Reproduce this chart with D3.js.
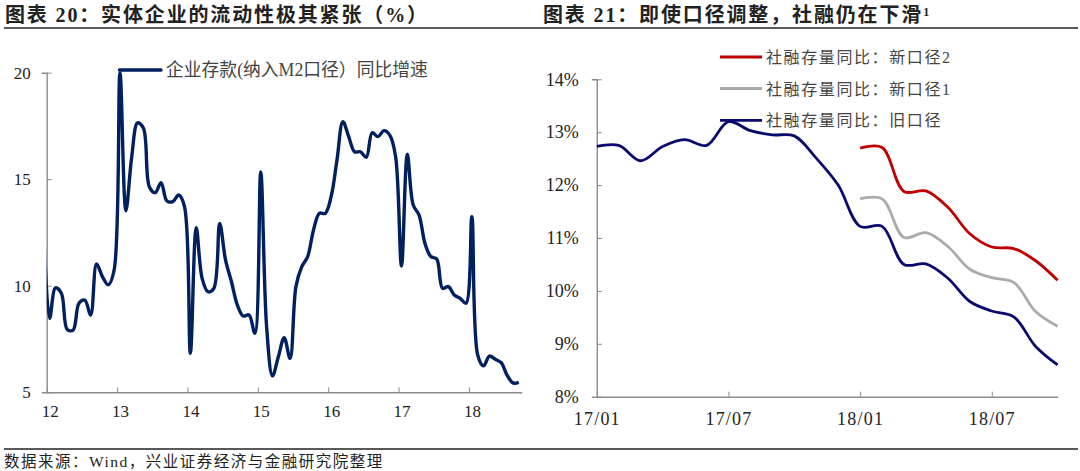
<!DOCTYPE html>
<html>
<head>
<meta charset="utf-8">
<script src="https://cdn.jsdelivr.net/npm/d3@7"></script>
<style>
  html, body { margin: 0; padding: 0; background: #fff; }
  svg { display: block; }
  text { font-family: "Liberation Serif", "Noto Sans CJK SC", serif; }
</style>
</head>
<body>
<div id="grafico"></div>
<script>
// dados do gráfico da esquerda (mensal, 2012/01 a 2018/09)
var anos = ["12", "13", "14", "15", "16", "17", "18"];
var ticksAnos = [0, 12, 24, 36, 48, 60, 72];
var ticksDeposito = [5, 10, 15, 20];
var deposito = [
  8.47, 9.9, 9.65, 7.95, 7.92, 9.18, 9.33, 8.63, 11.02, 10.43, 10.04, 10.74,
  20, 13.52, 16.06, 17.65, 17.39, 14.65, 14.37, 14.84, 13.98, 13.95, 14.26, 13.71,
  6.83, 12.73, 10.35, 9.72, 9.88, 12.93, 11.2, 10.2, 9.1, 8.58, 8.63, 7.77,
  15.34, 8.08, 5.77, 6.67, 7.56, 6.59, 9.96, 10.9, 11.37, 12.62, 13.4, 13.4,
  14.18, 15.9, 17.7, 17.0, 16.29, 16.29, 16.03, 17.18, 17.0, 17.28, 17.07, 16.06,
  10.93, 16.17, 13.79, 13.32, 11.99, 11.37, 11.26, 9.88, 9.96, 9.57, 9.41, 9.18,
  13.24, 6.75, 6.24, 6.7, 6.55, 6.39, 5.81, 5.44, 5.47
];
// valor de 2011/12, fica fora do eixo e serve só para a entrada da linha
var depositoAntes = 12.7;

// dados do gráfico da direita (mensal, 17/01 a 18/10)
var meses = ["17/01","17/02","17/03","17/04","17/05","17/06","17/07","17/08","17/09","17/10","17/11","17/12",
  "18/01","18/02","18/03","18/04","18/05","18/06","18/07","18/08","18/09","18/10"];
var ticksMeses = ["17/01", "17/07", "18/01", "18/07"];
var ticksSocial = [8, 9, 10, 11, 12, 13, 14];
var antigo = [12.73, 12.75, 12.46, 12.73, 12.86, 12.75, 13.2, 13.03, 12.95, 12.93, 12.51, 12.0,
  11.22, 11.22, 10.5, 10.51, 10.24, 9.8, 9.62, 9.51, 8.95, 8.6];
var novo1 = [11.74, 11.74, 11.01, 11.1, 10.84, 10.41, 10.25, 10.16, 9.61, 9.33];
var novo2 = [12.7, 12.71, 11.88, 11.89, 11.58, 11.08, 10.83, 10.8, 10.57, 10.2];
var mesesNovos = meses.slice(12);

var svg = d3.select("#grafico").append("svg").attr("width", 1080).attr("height", 471);
var corEixo = "#8c8c8c";
var azul = "#002060", marinho = "#0a0a6e", cinza = "#ababab", vermelho = "#c00000";

function estiloEixo(g, tam) {
  g.select(".domain").attr("stroke", corEixo).attr("stroke-width", 1.4);
  g.selectAll(".tick line").attr("stroke", corEixo).attr("stroke-width", 1);
  g.selectAll(".tick text").attr("fill", "#222").attr("font-size", tam)
    .style("font-family", '"Liberation Serif", serif');
}

// títulos e linhas
function titulo(x, partes) {
  var t = svg.append("text").attr("x", x).attr("y", 22).attr("font-size", 20)
    .attr("font-weight", "bold").attr("fill", "#222").attr("letter-spacing", 1.85);
  partes.forEach(function (p) { t.append("tspan").text(p); });
  return t;
}
titulo(5, ["图表 20：实体企业的流动性极其紧张（%）"]);
var t2 = titulo(543, ["图表 21：即使口径调整，社融仍在下滑"]);
t2.append("tspan").text("1").attr("font-size", 12).attr("dy", -6);

[28, 449].forEach(function (y) {
  svg.append("line").attr("x1", 4).attr("x2", 1078).attr("y1", y).attr("y2", y)
    .attr("stroke", "#222").attr("stroke-width", 1.4);
});
svg.append("text").attr("x", 4).attr("y", 467).attr("font-size", 15.5).attr("fill", "#222")
  .attr("letter-spacing", 1.5).text("数据来源：Wind，兴业证券经济与金融研究院整理");

// gráfico da esquerda
var xE = d3.scaleLinear().domain([0, 81]).range([46.7, 521.7]);
var yE = d3.scaleLinear().domain([5, 20]).range([392.3, 72.7]);

var eixoXE = svg.append("g").attr("transform", "translate(0,392.3)")
  .call(d3.axisBottom(xE).tickValues(ticksAnos).tickSize(-5).tickSizeOuter(0).tickPadding(13)
    .tickFormat(function (d, i) { return anos[i]; }));
estiloEixo(eixoXE, 17);
eixoXE.selectAll(".tick text").attr("dx", 3);

var eixoYE = svg.append("g").attr("transform", "translate(46.7,0)")
  .call(d3.axisLeft(yE).tickValues(ticksDeposito).tickSize(-5).tickSizeOuter(5).tickPadding(16));
estiloEixo(eixoYE, 17);

svg.append("clipPath").attr("id", "corteE").append("rect")
  .attr("x", 46.7).attr("y", 60).attr("width", 480).attr("height", 340);

var serieE = [depositoAntes].concat(deposito);
var linhaE = d3.line()
  .x(function (d, i) { return xE(i - 0.5); })
  .y(function (d) { return yE(d); })
  .curve(d3.curveCatmullRom);
svg.append("path").attr("d", linhaE(serieE)).attr("clip-path", "url(#corteE)")
  .attr("fill", "none").attr("stroke", azul).attr("stroke-width", 3.4);

svg.append("line").attr("x1", 119.5).attr("x2", 161).attr("y1", 70).attr("y2", 70)
  .attr("stroke", azul).attr("stroke-width", 3.4).attr("stroke-linecap", "round");
svg.append("text").attr("x", 166).attr("y", 76).attr("font-size", 17.8).attr("fill", "#444")
  .text("企业存款(纳入M2口径）同比增速");

// gráfico da direita
var xD = d3.scalePoint().domain(meses).range([596.8, 1057.6]);
var yD = d3.scaleLinear().domain([8, 14]).range([396.7, 79.3]);

var eixoXD = svg.append("g").attr("transform", "translate(0,396.7)")
  .call(d3.axisBottom(xD).tickValues(ticksMeses).tickSize(-5).tickSizeOuter(0).tickPadding(16));
estiloEixo(eixoXD, 18);
eixoXD.selectAll(".tick text").attr("letter-spacing", 1.2);

var eixoYD = svg.append("g").attr("transform", "translate(596.8,0)")
  .call(d3.axisLeft(yD).tickValues(ticksSocial).tickSize(-5).tickSizeOuter(5).tickPadding(18)
    .tickFormat(function (d) { return d + "%"; }));
estiloEixo(eixoYD, 18);

var linhaD = d3.line()
  .x(function (d) { return xD(d.mes); })
  .y(function (d) { return yD(d.valor); })
  .curve(d3.curveCatmullRom);

function desenha(labels, valores, cor) {
  var pontos = labels.map(function (m, i) { return { mes: m, valor: valores[i] }; });
  svg.append("path").attr("d", linhaD(pontos)).attr("fill", "none")
    .attr("stroke", cor).attr("stroke-width", 2.8);
}
desenha(mesesNovos, novo2, vermelho);
desenha(mesesNovos, novo1, cinza);
desenha(meses, antigo, marinho);

// legenda da direita
var legenda = [
  { nome: "社融存量同比：新口径2", cor: vermelho, y: 57 },
  { nome: "社融存量同比：新口径1", cor: cinza, y: 88.5 },
  { nome: "社融存量同比：旧口径", cor: marinho, y: 120.3 }
];
legenda.forEach(function (l) {
  svg.append("line").attr("x1", 720).attr("x2", 762).attr("y1", l.y).attr("y2", l.y)
    .attr("stroke", l.cor).attr("stroke-width", 2.8);
  svg.append("text").attr("x", 766).attr("y", l.y + 6).attr("font-size", 16).attr("fill", "#444")
    .attr("letter-spacing", 1.6).text(l.nome);
});
</script>
</body>
</html>
